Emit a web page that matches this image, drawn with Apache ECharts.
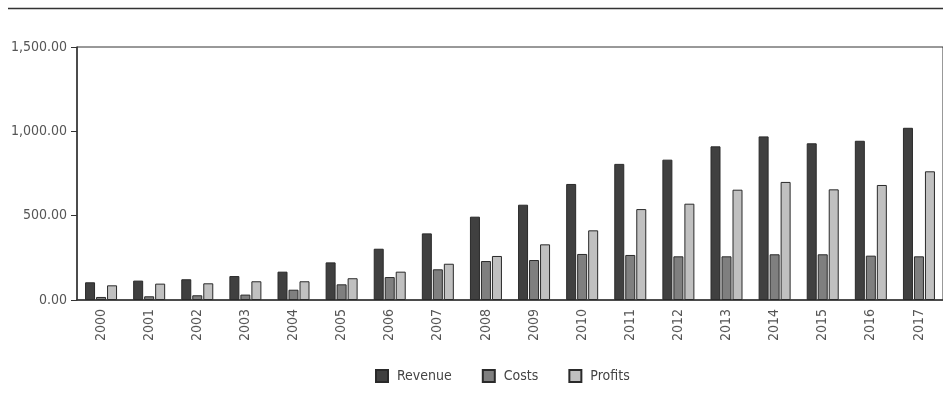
<!DOCTYPE html>
<html>
<head>
<meta charset="utf-8">
<script src="https://cdn.jsdelivr.net/npm/echarts@6/dist/echarts.min.js"></script>
<style>
  html, body { margin: 0; padding: 0; background: #fff; }
  #chart { width: 943px; height: 411px; }
</style>
</head>
<body>
<div id="chart"></div>
<script>
const years = ["2000", "2001", "2002", "2003", "2004", "2005", "2006", "2007", "2008",
  "2009", "2010", "2011", "2012", "2013", "2014", "2015", "2016", "2017"];
const revenue = [105, 115, 123, 142, 168, 223, 304, 395, 494, 565, 688, 807, 832, 911, 970, 929, 944, 1021];
const costs = [18, 22, 28, 32, 61, 93, 136, 182, 231, 237, 273, 267, 259, 259, 271, 271, 263, 259];
const profits = [87, 97, 99, 111, 111, 129, 168, 215, 261, 330, 413, 539, 571, 654, 700, 656, 682, 763];

const font = '"DejaVu Sans Condensed", "Liberation Sans Narrow", sans-serif';

const chart = echarts.init(document.getElementById("chart"));

function barSeries(name, data, color) {
  return {
    name: name,
    type: "bar",
    data: data,
    barWidth: 10,
    barGap: "10%",
    itemStyle: { color: color, borderColor: "#2a2a2a", borderWidth: 1 },
  };
}

chart.setOption({
  animation: false,
  textStyle: { fontFamily: font },
  graphic: [
    {
      type: "line",
      shape: { x1: 8, y1: 8.5, x2: 943, y2: 8.5 },
      style: { stroke: "#333", lineWidth: 1.5 },
    },
  ],
  grid: {
    left: 77,
    top: 47,
    right: -6,
    bottom: 111,
    show: true,
    borderColor: "#333",
    borderWidth: 1,
  },
  legend: {
    data: ["Revenue", "Costs", "Profits"],
    icon: "rect",
    top: 364,
    left: 370,
    itemWidth: 12,
    itemHeight: 12,
    itemGap: 30,
    textStyle: { fontFamily: font, fontSize: 14, color: "#444", padding: [0, 0, 0, 4] },
  },
  xAxis: {
    type: "category",
    data: years,
    axisLine: { lineStyle: { color: "#333", width: 1.5 } },
    axisTick: { show: false },
    axisLabel: {
      rotate: 90,
      margin: 9,
      fontFamily: font,
      fontSize: 14,
      color: "#555",
    },
  },
  yAxis: {
    type: "value",
    min: 0,
    max: 1500,
    interval: 500,
    splitLine: { show: false },
    axisLine: { show: true, lineStyle: { color: "#333", width: 1.5 } },
    axisTick: { show: true, length: 6, lineStyle: { color: "#333" } },
    axisLabel: {
      margin: 10,
      fontFamily: font,
      fontSize: 14,
      color: "#555",
      formatter: (v) => v.toLocaleString("en-US", { minimumFractionDigits: 2, maximumFractionDigits: 2 }),
    },
  },
  series: [
    barSeries("Revenue", revenue, "#404040"),
    barSeries("Costs", costs, "#7f7f7f"),
    barSeries("Profits", profits, "#c0c0c0"),
  ],
});
</script>
</body>
</html>
